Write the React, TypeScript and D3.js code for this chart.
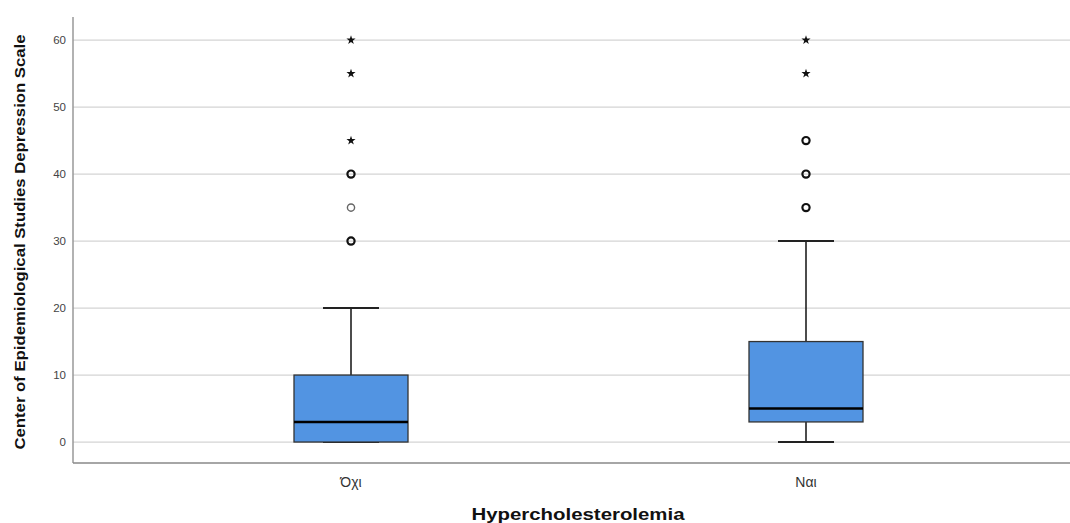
import React from "react";
import * as d3 from "d3";

const categories = ["Όχι", "Ναι"];
const q1 = [0, 3];
const medians = [3, 5];
const q3 = [10, 15];
const whiskerLow = [0, 0];
const whiskerHigh = [20, 30];
// outliers: [categoryIndex, value, strong]
const circleOutliers: [number, number, boolean][] = [
  [0, 30, true],
  [0, 35, false],
  [0, 40, true],
  [1, 35, true],
  [1, 40, true],
  [1, 45, true],
];
const starOutliers: [number, number][] = [
  [0, 45],
  [0, 55],
  [0, 60],
  [1, 55],
  [1, 60],
];
const yTicks = [0, 10, 20, 30, 40, 50, 60];

const W = 1070;
const H = 523;
const left = 73;
const right = 1070;
const top = 17;
const bottom = 463;

export default function App() {
  const y = d3.scaleLinear().domain([-3.13, 63.45]).range([bottom, top]);
  const x = d3.scalePoint<string>().domain(categories).range([left + 278, right - 264]);
  const boxW = 114;
  const capW = 56;
  const star = d3.symbol().type(d3.symbolStar).size(26)();

  return (
    <div style={{ position: "absolute", left: 0, top: 0 }}>
      <svg width={W} height={H} style={{ display: "block", background: "#fff" }}>
        {yTicks.map((t) => (
          <g key={t}>
            <line x1={left} x2={right} y1={y(t)} y2={y(t)} stroke="#d4d4d4" strokeWidth={1.2} />
            <text
              x={left - 7}
              y={y(t)}
              dy="0.35em"
              textAnchor="end"
              fontFamily="Arial, Liberation Sans, sans-serif"
              fontSize={11.5}
              fill="#444"
            >
              {t}
            </text>
          </g>
        ))}
        <line x1={left} x2={left} y1={top} y2={bottom} stroke="#999" strokeWidth={1.5} />
        <line x1={left} x2={right} y1={bottom} y2={bottom} stroke="#888" strokeWidth={1.5} />

        {categories.map((c, i) => {
          const cx = x(c)!;
          return (
            <g key={c}>
              <line x1={cx} x2={cx} y1={y(q3[i])} y2={y(whiskerHigh[i])} stroke="#111" strokeWidth={1.5} />
              <line x1={cx} x2={cx} y1={y(whiskerLow[i])} y2={y(q1[i])} stroke="#111" strokeWidth={1.5} />
              <line x1={cx - capW / 2} x2={cx + capW / 2} y1={y(whiskerHigh[i])} y2={y(whiskerHigh[i])} stroke="#222" strokeWidth={2} />
              <line x1={cx - capW / 2} x2={cx + capW / 2} y1={y(whiskerLow[i])} y2={y(whiskerLow[i])} stroke="#222" strokeWidth={2} />
              <rect
                x={cx - boxW / 2}
                y={y(q3[i])}
                width={boxW}
                height={y(q1[i]) - y(q3[i])}
                fill="#5294e2"
                stroke="#333"
                strokeWidth={1.3}
              />
              <line x1={cx - boxW / 2} x2={cx + boxW / 2} y1={y(medians[i])} y2={y(medians[i])} stroke="#000" strokeWidth={2.5} />
              <text
                x={cx}
                y={487}
                textAnchor="middle"
                fontFamily="Arial, Liberation Sans, sans-serif"
                fontSize={14}
                fill="#333"
              >
                {c}
              </text>
            </g>
          );
        })}

        {circleOutliers.map(([ci, v, strong], k) => (
          <circle
            key={k}
            cx={x(categories[ci])!}
            cy={y(v)}
            r={3.6}
            fill="none"
            stroke={strong ? "#111" : "#666"}
            strokeWidth={strong ? 2.2 : 1.4}
          />
        ))}
        {starOutliers.map(([ci, v], k) => (
          <path key={k} d={star!} transform={`translate(${x(categories[ci])},${y(v)})`} fill="#111" />
        ))}

        <text
          x={578}
          y={520}
          textAnchor="middle"
          fontFamily="Arial, Liberation Sans, sans-serif"
          fontWeight="bold"
          fontSize={16}
          textLength={213}
          lengthAdjust="spacingAndGlyphs"
          fill="#111"
        >
          Hypercholesterolemia
        </text>
        <text
          transform={`translate(25,242) rotate(-90)`}
          textAnchor="middle"
          fontFamily="Arial, Liberation Sans, sans-serif"
          fontWeight="bold"
          fontSize={15}
          textLength={415}
          lengthAdjust="spacingAndGlyphs"
          fill="#111"
        >
          Center of Epidemiological Studies Depression Scale
        </text>
      </svg>
    </div>
  );
}
